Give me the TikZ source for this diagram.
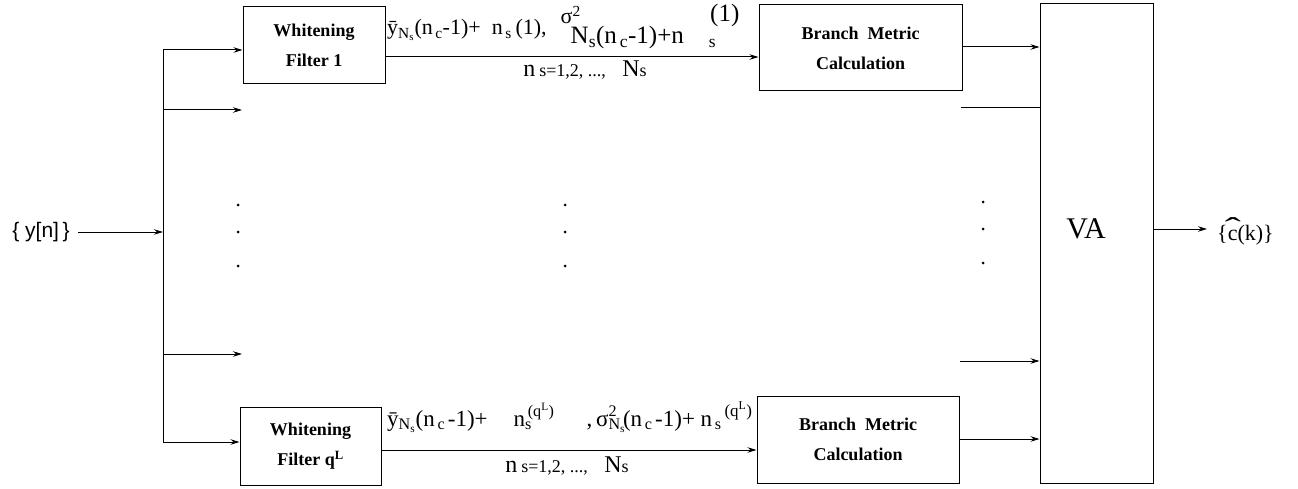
\documentclass[tikz,border=0pt]{standalone}
\usepackage[no-math]{fontspec}
\setmainfont{Liberation Serif}
\newfontfamily\sansf{Liberation Sans}
\usetikzlibrary{arrows.meta,calc}
\newcommand{\sbsp}[2]{\rlap{\textsubscript{#1}}\textsuperscript{#2}}
\newcommand{\smallsz}{\fontsize{18}{20}\selectfont}
\newcommand{\bigsz}{\fontsize{25}{27}\selectfont}
\newcommand{\bsup}[1]{\raisebox{10pt}{\fontsize{17}{19}\selectfont #1}}
\begin{document}
\begin{tikzpicture}[x=1pt,y=-1pt,
  blk/.style={draw, line width=1pt, inner sep=0pt, align=center, font=\fontsize{18}{30}\selectfont\bfseries},
  conn/.style={line width=1pt},
  arr/.style={conn, -{Stealth[length=9pt,width=5.5pt]}},
  lbl/.style={inner sep=0pt, font=\fontsize{22}{24}\selectfont},
  lblb/.style={inner sep=0pt, font=\fontsize{23}{25}\selectfont},
  sublbl/.style={inner sep=0pt, font=\fontsize{24}{26}\selectfont},
  dot/.style={circle, fill, inner sep=0pt, minimum size=3pt}]
\useasboundingbox (0,0) rectangle (1298,489);

% blocks
\node[blk, minimum width=142pt, minimum height=77pt] (wf1) at (314,45.5) {Whitening\\Filter 1};
\node[blk, minimum width=141pt, minimum height=78pt] (wfq) at (310.5,446) {Whitening\\Filter q\textsuperscript{L}};
\node[blk, minimum width=203pt, minimum height=86pt] (bm1) at (860.5,48) {Branch\ \ Metric\\Calculation};
\node[blk, minimum width=202pt, minimum height=87pt] (bm2) at (858,439.5) {Branch\ \ Metric\\Calculation};
\node[draw, line width=1pt, minimum width=113pt, minimum height=479pt] (va) at (1096.5,243.5) {};
\node[inner sep=0pt, font=\fontsize{30}{34}\selectfont] (vatext) at (1086,229) {VA};

% input and bus
\node[inner sep=0pt, font=\sansf\fontsize{21}{24}\selectfont] (yin) at (41,232) {\{ y[n]\,\}};
\coordinate (bin) at (163,232);
\draw[arr, shorten <=8pt] (yin.east) -- (bin);
\coordinate (bt) at (163,50);
\coordinate (bb) at (163,442);
\draw[conn] (bt) -- (bb);
\draw[arr] (bt) -- (bt -| wf1.west);
\coordinate (b2) at (163,110);
\coordinate (b2e) at (242,110);
\draw[arr] (b2) -- (b2e);
\coordinate (b3) at (163,354);
\coordinate (b3e) at (242,354);
\draw[arr] (b3) -- (b3e);
\draw[arr] (bb) -- (bb -| wfq.west);

% filter outputs
\draw[arr] (wf1.east |- 0,57) -- (bm1.west |- 0,57);
\draw[arr] (wfq.east |- 0,450) -- (bm2.west |- 0,450);

% to VA
\draw[arr] (bm1.east |- 0,47) -- (va.west |- 0,47);
\coordinate (r2) at (961,108);
\draw[conn] (r2) -- (va.west |- r2);
\coordinate (r3) at (960,361);
\draw[arr] (r3) -- (va.west |- r3);
\draw[arr] (bm2.east |- 0,439) -- (va.west |- 0,439);

% output
\node[inner sep=0pt, font=\fontsize{22}{24}\selectfont, anchor=west] (cout) at (1217,231)
  {\{\rlap{\hspace{-3pt}\raisebox{3pt}{\scalebox{2.2}[1.3]{ˆ}}}c(k)\}};
\draw[arr, shorten >=10pt] (va.east |- 0,229) -- (cout.west |- 0,229);

% dots
\foreach \x/\y [count=\i] in {238/205,238/232,238/266,565/205,565/232,565/266,983/202,983/229,983/263}
  \node[dot] (d\i) at (\x,\y) {};

% labels
\node[lbl, anchor=base west] (l1) at (387,35)
  {ȳ\textsubscript{N\textsubscript{s}}(n\textsubscript{\,c}-1)+\ \ n\textsubscript{\,s}\,(1),\hspace{14pt}\raisebox{11pt}{σ\textsuperscript{2}}\hspace{-10pt}\raisebox{-9pt}{\bigsz N\textsubscript{s}(n\textsubscript{\,c}-1)+n\ \ \ \ \textsubscript{s}\raisebox{22pt}{\hspace{-6pt}(1)}}};
\node[sublbl] (n1) at (585,70) {n\,{\smallsz s=1,2, ..., }\ \ N{\smallsz s}};

\node[lblb, anchor=base west] (l2) at (387,426)
  {ȳ\textsubscript{N\textsubscript{s}}(n\textsubscript{\,c\,}-1)+\hspace{26pt}n\sbsp{s}{\,(q\textsuperscript{L})}\hspace{32pt},\,σ\sbsp{N\textsubscript{s}}{2}\hspace{6pt}(n\textsubscript{\,c\,}-1)+ n\textsubscript{\,s}\bsup{\,(q\textsuperscript{L})}};
\node[sublbl] (n2) at (567,466) {n\,{\smallsz s=1,2, ..., }\ \ N{\smallsz s}};
\end{tikzpicture}
\end{document}
